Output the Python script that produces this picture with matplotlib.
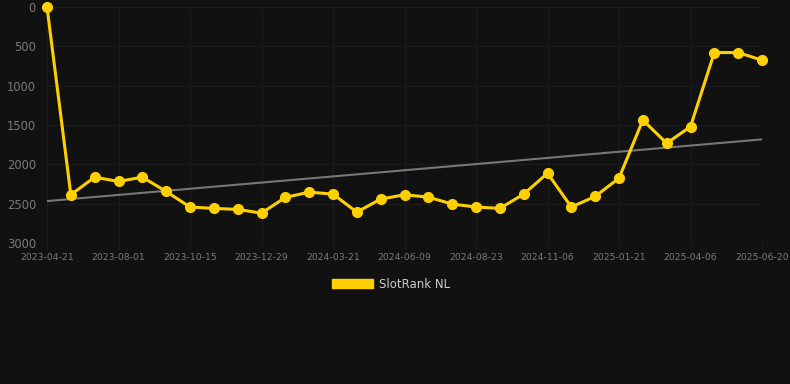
import matplotlib
import matplotlib.pyplot as plt
import numpy as np

matplotlib.use("Agg")

# SlotRank NL rank per snapshot (lower is better, axis is inverted)
ranks = [
    0, 2387, 2163, 2218, 2163, 2345, 2543, 2560, 2573, 2620,
    2421, 2353, 2379, 2607, 2442, 2387, 2417, 2505, 2543, 2560,
    2379, 2113, 2543, 2408, 2176, 1437, 1732, 1521, 579, 579, 676,
]
# only every third snapshot date is shown on the axis
tick_labels = [
    "2023-04-21", "2023-08-01", "2023-10-15", "2023-12-29", "2024-03-21",
    "2024-06-09", "2024-08-23", "2024-11-06", "2025-01-21", "2025-04-06",
    "2025-06-20",
]
y_ticks = [0, 500, 1000, 1500, 2000, 2500, 3000]

BG = "#111111"
GRID = "#1b1b1b"
TEXT = "#7a7a7a"
YELLOW = "#ffd000"


def plot_rank(ranks, tick_labels):
    plt.close("all")
    fig = plt.figure(figsize=(7.9, 3.84), dpi=100, facecolor=BG)
    ax = fig.add_axes([47 / 790, 1 - 243 / 384, 715 / 790, 236 / 384])
    ax.set_facecolor(BG)

    x = np.arange(len(ranks))
    slope, intercept = np.polyfit(x, ranks, 1)
    ax.plot(x, slope * x + intercept, color="#777777", linewidth=1.5, zorder=2)
    ax.plot(
        x, ranks, color=YELLOW, linewidth=2.2, marker="o", markersize=7,
        clip_on=False, zorder=3, label="SlotRank NL",
    )

    ax.set_xlim(0, len(ranks) - 1)
    ax.set_ylim(3000, 0)
    ax.set_xticks(x[::3])
    ax.set_xticklabels(tick_labels)
    ax.set_yticks(y_ticks)
    ax.grid(True, color=GRID, linewidth=1)
    ax.tick_params(axis="x", colors=GRID, labelcolor=TEXT, labelsize=6.7, length=4, pad=3)
    ax.tick_params(axis="y", length=0, labelcolor=TEXT, labelsize=8.3, pad=8)
    for spine in ax.spines.values():
        spine.set_visible(False)

    handle = plt.Rectangle((0, 0), 1, 1, color=YELLOW)
    leg = fig.legend(
        [handle], ["SlotRank NL"], loc="center", bbox_to_anchor=(0.495, 1 - 284 / 384),
        frameon=False, handlelength=3.4, handleheight=0.9, handletextpad=0.5,
        fontsize=8.5,
    )
    for t in leg.get_texts():
        t.set_color("#cccccc")
    return fig


plot_rank(ranks, tick_labels).savefig("out.png", dpi=100, facecolor=BG)
